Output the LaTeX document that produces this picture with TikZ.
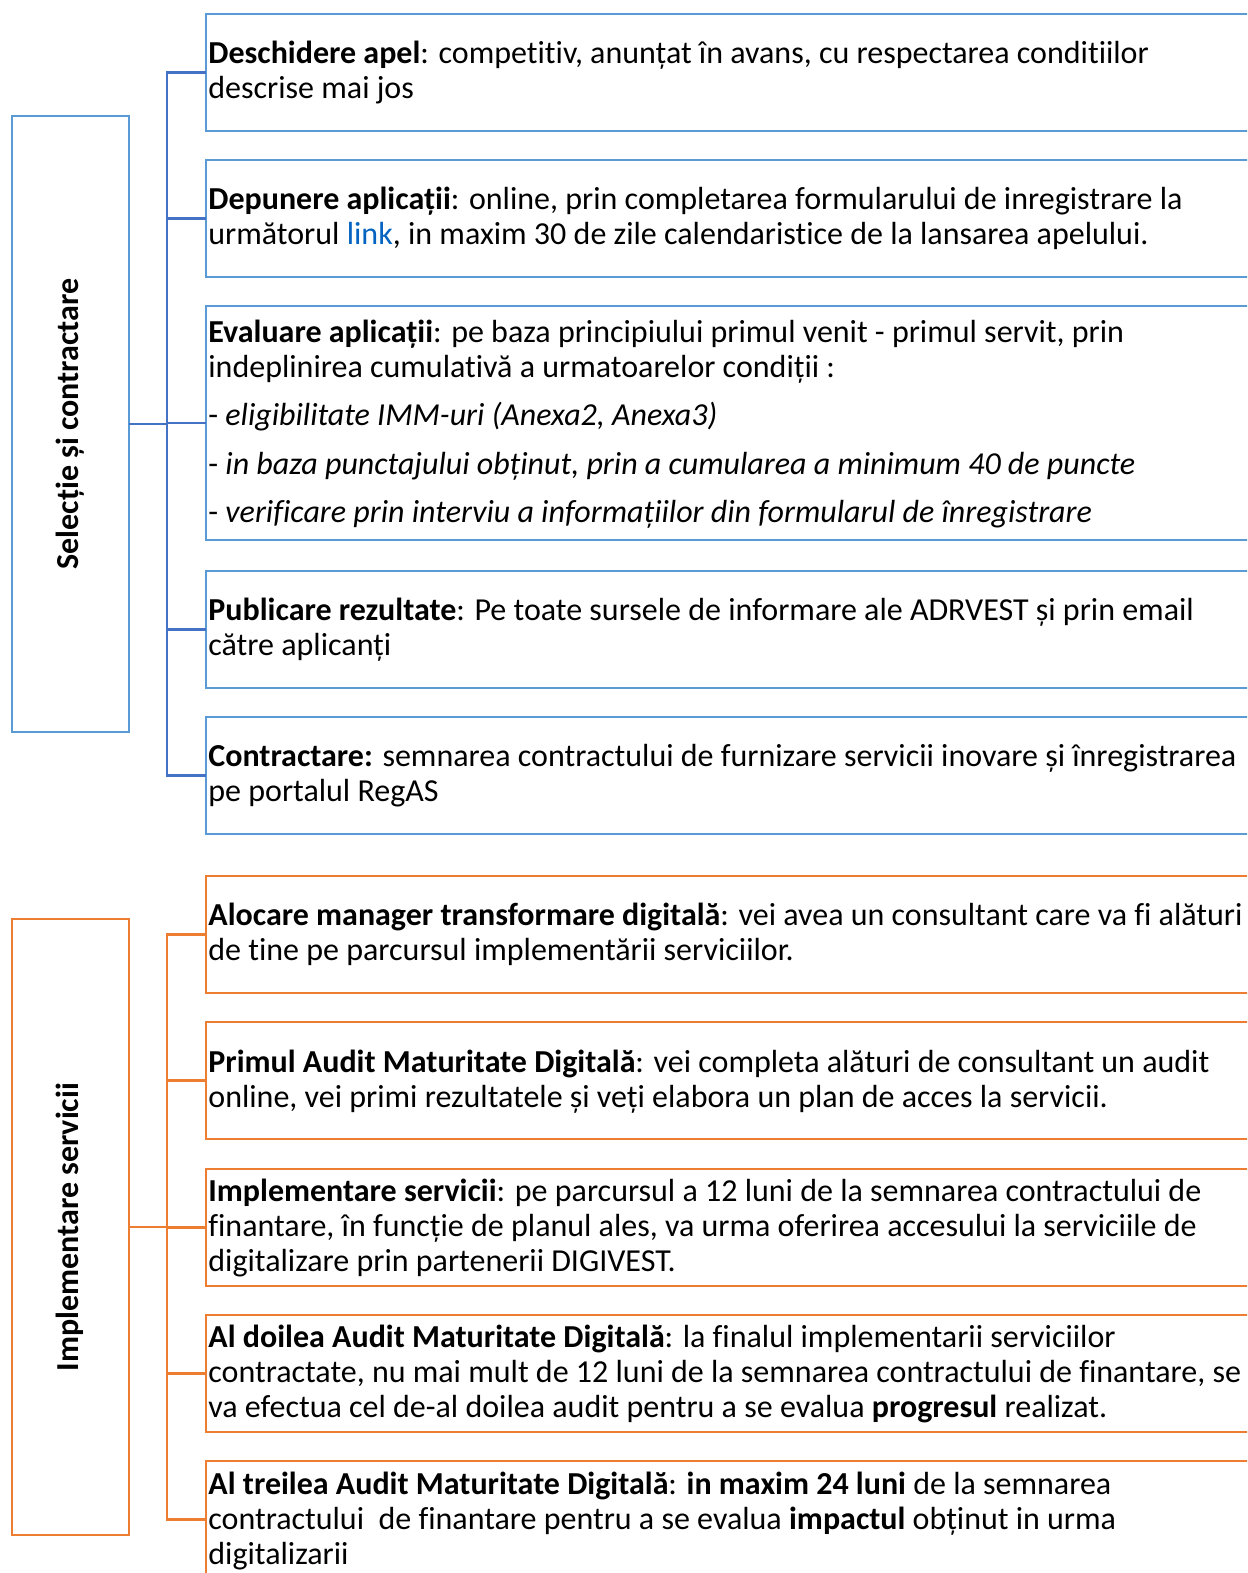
\documentclass[tikz,border=0pt]{standalone}
\usepackage{fontspec}
\setmainfont{Carlito}[Ligatures=NoCommon]
\definecolor{bblue}{HTML}{5B9BD5}
\definecolor{cblue}{HTML}{4472C4}
\definecolor{orng}{HTML}{ED7D31}
\definecolor{linkc}{HTML}{0563C1}
\begin{document}
\begin{tikzpicture}[x=0.5pt,y=-0.5pt,
  bbox/.style={draw=bblue, line width=1.1pt, anchor=north west, inner sep=0pt, outer sep=0pt, minimum width=523pt, minimum height=58.5pt},
  obox/.style={draw=orng, line width=1.1pt, anchor=north west, inner sep=0pt, outer sep=0pt, minimum width=523pt, minimum height=58.5pt},
  sidebox/.style={line width=1.1pt, anchor=north west, inner sep=0pt, outer sep=0pt, minimum width=58.5pt, minimum height=308pt},
  conb/.style={draw=cblue, line width=1.1pt},
  cono/.style={draw=orng, line width=1.1pt},
  txt/.style={anchor=base west, align=left, inner sep=0pt, font=\fontsize{16pt}{17.5pt}\selectfont},
  side/.style={rotate=90, inner sep=0pt, font=\fontsize{16pt}{17.5pt}\selectfont\bfseries}]
\useasboundingbox (0,0) rectangle (1247,1573);
\clip (0,0) rectangle (1247,1573);
\fill[white] (0,0) rectangle (1247,1573);

% ---------- blue group ----------
\node[sidebox, draw=bblue] (sel) at (12,116) {};
\node[side] (selt) at (70,424) {Selecție și contractare};
\node[bbox] (b1) at (206,14) {};
\node[bbox] (b2) at (206,160) {};
\node[bbox, minimum height=117pt] (b3) at (206,306) {};
\node[bbox] (b4) at (206,571) {};
\node[bbox] (b5) at (206,717) {};
\path (sel.east) -- ++(38,0) coordinate (tb);
\draw[conb] (sel.east) -- (tb);
\foreach \n in {b1,b2,b3,b4,b5} \draw[conb] (tb) |- (\n.west);

\node[txt] (t1) at (208,98.3) {\textbf{Deschidere apel}: competitiv, anunțat în avans, cu respectarea conditiilor\\descrise mai jos};
\node[txt] (t2) at (208,244.8) {\textbf{Depunere aplicații}: online, prin completarea formularului de inregistrare la\\următorul {\color{linkc}link}, in maxim 30 de zile calendaristice de la lansarea apelului.};
\node[txt] (t3) at (208,522.6) {\textbf{Evaluare aplicații}: pe baza principiului primul venit - primul servit, prin\\indeplinirea cumulativă a urmatoarelor condiții :\\[6.75pt]- \textit{eligibilitate IMM-uri (Anexa2, Anexa3)}\\[6.75pt]- \textit{in baza punctajului obținut, prin a cumularea a minimum 40 de puncte}\\[6.75pt]- \textit{verificare prin interviu a informațiilor din formularul de înregistrare}};
\node[txt] (t4) at (208,655) {\textbf{Publicare rezultate}: Pe toate sursele de informare ale ADRVEST și prin email\\către aplicanți};
\node[txt] (t5) at (208,801.5) {\textbf{Contractare:} semnarea contractului de furnizare servicii inovare și înregistrarea\\pe portalul RegAS};

% ---------- orange group ----------
\node[sidebox, draw=orng] (imp) at (12,919) {};
\node[side] (impt) at (70,1227) {Implementare servicii};
\node[obox] (o1) at (206,876) {};
\node[obox] (o2) at (206,1022) {};
\node[obox] (o3) at (206,1169) {};
\node[obox] (o4) at (206,1315) {};
\node[obox] (o5) at (206,1461) {};
\path (imp.east) -- ++(38,0) coordinate (to);
\draw[cono] (imp.east) -- (to);
\foreach \n in {o1,o2,o3,o4,o5} \draw[cono] (to) |- (\n.west);

\node[txt] (u1) at (208,960) {\textbf{Alocare manager transformare digitală}: vei avea un consultant care va fi alături\\de tine pe parcursul implementării serviciilor.};
\node[txt] (u2) at (208,1107.5) {\textbf{Primul Audit Maturitate Digitală}: vei completa alături de consultant un audit\\online, vei primi rezultatele și veți elabora un plan de acces la servicii.};
\node[txt] (u3) at (208,1271) {\textbf{Implementare servicii}: pe parcursul a 12 luni de la semnarea contractului de\\finantare, în funcție de planul ales, va urma oferirea accesului la serviciile de\\digitalizare prin partenerii DIGIVEST.};
\node[txt] (u4) at (208,1417.5) {\textbf{Al doilea Audit Maturitate Digitală}: la finalul implementarii serviciilor\\contractate, nu mai mult de 12 luni de la semnarea contractului de finantare, se\\va efectua cel de-al doilea audit pentru a se evalua \textbf{progresul} realizat.};
\node[txt] (u5) at (208,1564) {\textbf{Al treilea Audit Maturitate Digitală}: \textbf{in maxim 24 luni} de la semnarea\\contractului\ \ de finantare pentru a se evalua \textbf{impactul} obținut in urma\\digitalizarii};
\end{tikzpicture}
\end{document}
